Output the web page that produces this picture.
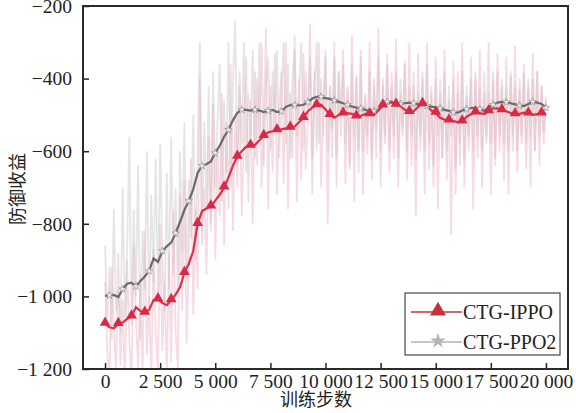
<!DOCTYPE html>
<html>
<head>
<meta charset="utf-8">
<script src="https://cdn.jsdelivr.net/npm/d3@7"></script>
<style>
  body { margin: 0; background: #fff; }
</style>
</head>
<body>
<script>
// Data: smoothed rewards every 200 steps, raw rewards every 100 steps
let steps = d3.range(0, 20001, 200);
let rawSteps = d3.range(0, 20001, 100);

let ippoSmooth = [
  -1075, -1085, -1088, -1076, -1072, -1062, -1055, -1030, -1040, -1045,
  -1037, -1010, -1008, -1018, -1024, -1010, -995, -975, -935, -910,
  -875, -800, -765, -758, -752, -736, -720, -700, -672, -640,
  -615, -600, -588, -585, -583, -570, -558, -548, -545, -542,
  -540, -537, -535, -532, -520, -508, -490, -480, -473, -472,
  -485, -500, -508, -500, -496, -495, -497, -504, -503, -497,
  -498, -500, -488, -474, -468, -464, -472, -476, -486, -492,
  -490, -478, -470, -475, -488, -494, -508, -513, -515, -517,
  -520, -518, -505, -498, -493, -495, -498, -490, -482, -482,
  -487, -490, -495, -498, -497, -494, -496, -500, -498, -496,
  -498,
];

let ppo2Smooth = [
  -999, -997, -996, -1002, -980, -965, -962, -972, -958, -945,
  -930, -895, -905, -875, -862, -852, -826, -795, -762, -737,
  -705, -660, -640, -636, -628, -605, -585, -560, -541, -515,
  -494, -486, -486, -488, -486, -488, -492, -489, -486, -492,
  -490, -478, -473, -473, -474, -472, -465, -455, -450, -450,
  -454, -456, -460, -464, -468, -472, -477, -480, -482, -486,
  -490, -489, -486, -470, -464, -466, -468, -470, -468, -466,
  -468, -471, -473, -475, -477, -479, -482, -486, -489, -493,
  -494, -488, -484, -481, -480, -484, -489, -480, -472, -466,
  -464, -465, -468, -471, -474, -476, -470, -464, -466, -470,
  -480,
];

let ippoRaw = [
  -960, -1150, -1230, -920, -1080, -1210, -880, -1190, -1010, -1250,
  -900, -1120, -1240, -860, -1060, -1200, -940, -1230, -820, -1160,
  -1000, -1240, -870, -1100, -1210, -800, -1150, -960, -1230, -880,
  -1180, -760, -1090, -1200, -720, -1040, -680, -1130, -900, -620,
  -1050, -760, -980, -400, -860, -700, -940, -560, -820, -470,
  -900, -600, -780, -440, -860, -520, -760, -360, -820, -500,
  -700, -420, -780, -560, -340, -740, -460, -800, -380, -640,
  -300, -700, -520, -260, -760, -420, -660, -330, -720, -480,
  -380, -690, -300, -760, -440, -620, -280, -740, -400, -680,
  -330, -650, -520, -250, -720, -380, -600, -300, -700, -460,
  -340, -800, -420, -620, -300, -700, -380, -560, -320, -690,
  -430, -650, -280, -740, -390, -600, -320, -720, -450, -610,
  -300, -680, -400, -620, -260, -700, -420, -580, -330, -660,
  -380, -620, -290, -700, -440, -560, -350, -680, -300, -640,
  -420, -780, -330, -600, -380, -720, -300, -650, -440, -700,
  -340, -760, -400, -620, -320, -680, -460, -830, -350, -720,
  -380, -640, -300, -700, -450, -600, -340, -760, -400, -620,
  -320, -700, -440, -580, -300, -720, -380, -640, -330, -600,
  -420, -680, -340, -720, -390, -600, -310, -660, -430, -580,
  -360, -650, -400, -700, -330, -600, -380, -640, -420, -580,
  -460,
];

let ppo2Raw = [
  -860, -1060, -920, -1120, -760, -1040, -980, -1100, -700, -1060,
  -880, -560, -1080, -760, -1000, -640, -1120, -820, -980, -600,
  -1040, -720, -960, -620, -1000, -580, -900, -1040, -660, -980,
  -560, -940, -700, -1000, -600, -880, -520, -960, -680, -840,
  -500, -900, -600, -300, -820, -520, -760, -420, -800, -380,
  -700, -520, -360, -740, -460, -660, -300, -700, -420, -240,
  -640, -380, -580, -300, -660, -440, -560, -320, -620, -400,
  -560, -300, -640, -420, -340, -600, -380, -540, -320, -620,
  -440, -300, -580, -360, -620, -400, -320, -560, -440, -300,
  -600, -380, -520, -340, -620, -420, -300, -580, -400, -560,
  -320, -600, -420, -540, -340, -620, -380, -500, -360, -580,
  -420, -640, -360, -560, -400, -660, -340, -600, -440, -560,
  -380, -620, -420, -540, -340, -600, -400, -560, -360, -600,
  -420, -560, -380, -620, -400, -540, -360, -600, -420, -560,
  -380, -620, -440, -560, -400, -600, -360, -580, -420, -640,
  -400, -560, -440, -620, -380, -600, -420, -560, -400, -650,
  -440, -580, -380, -620, -420, -560, -400, -600, -380, -560,
  -420, -600, -380, -560, -440, -580, -400, -620, -380, -560,
  -400, -580, -420, -600, -380, -560, -420, -600, -400, -560,
  -380, -580, -420, -560, -400, -600, -380, -560, -420, -550,
  -450,
];

let xTicks = [0, 2500, 5000, 7500, 10000, 12500, 15000, 17500, 20000];
let yTicks = [-1200, -1000, -800, -600, -400, -200];

// Define dimensions
let width = 576;
let height = 413;

let margin = {
  top: 6,
  bottom: 44,
  left: 83,
  right: 8,
};

let svg = d3
  .select("body")
  .append("svg")
  .attr("width", width)
  .attr("height", height);

let xScale = d3
  .scaleLinear()
  .domain([-1000, 21000])
  .range([margin.left, width - margin.right]);

let yScale = d3
  .scaleLinear()
  .domain([-1200, -200])
  .range([height - margin.bottom, margin.top]);

let locale = d3.formatLocale({
  decimal: ".",
  thousands: " ",
  grouping: [3],
  currency: ["", ""],
  minus: "\u2212",
});
let fmt = locale.format(",d");

// Clip the noisy curves to the plot area
svg
  .append("clipPath")
  .attr("id", "plot-clip")
  .append("rect")
  .attr("x", margin.left)
  .attr("y", margin.top)
  .attr("width", width - margin.left - margin.right)
  .attr("height", height - margin.top - margin.bottom);

let plot = svg.append("g").attr("clip-path", "url(#plot-clip)");

let line = (xs, values) =>
  d3
    .line()
    .x((d, i) => xScale(xs[i]))
    .y((d) => yScale(d))(values);

// Raw episode rewards (light background)
plot
  .append("path")
  .attr("d", line(rawSteps, ppo2Raw))
  .attr("fill", "none")
  .attr("stroke", "#cccccc")
  .attr("stroke-opacity", 0.5)
  .attr("stroke-width", 1.8);

plot
  .append("path")
  .attr("d", line(rawSteps, ippoRaw))
  .attr("fill", "none")
  .attr("stroke", "#eeb0bf")
  .attr("stroke-opacity", 0.45)
  .attr("stroke-width", 1.8);

// Smoothed curves
plot
  .append("path")
  .attr("d", line(steps, ppo2Smooth))
  .attr("fill", "none")
  .attr("stroke", "#6a6a6a")
  .attr("stroke-width", 2.2);

plot
  .append("path")
  .attr("d", line(steps, ippoSmooth))
  .attr("fill", "none")
  .attr("stroke", "#dc2f4a")
  .attr("stroke-width", 2.2);

// Markers
let star = d3.symbol().type(d3.symbolStar).size(18);
let tri = d3.symbol().type(d3.symbolTriangle).size(50);

plot
  .selectAll(".star")
  .data(ppo2Smooth.map((v, i) => ({ s: steps[i], v: v })).filter((d, i) => i % 3 === 1))
  .join("path")
  .attr("class", "star")
  .attr("d", star)
  .attr("transform", (d) => `translate(${xScale(d.s)},${yScale(d.v)})`)
  .attr("fill", "#eeeeee")
  .attr("stroke", "#8a8a8a")
  .attr("stroke-width", 0.6);

plot
  .selectAll(".tri")
  .data(ippoSmooth.map((v, i) => ({ s: steps[i], v: v })).filter((d, i) => i % 3 === 0))
  .join("path")
  .attr("class", "tri")
  .attr("d", tri)
  .attr("transform", (d) => `translate(${xScale(d.s)},${yScale(d.v) - 1})`)
  .attr("fill", "#d82a46");

// Axes with inward ticks
let xAxis = svg
  .append("g")
  .attr("transform", `translate(0, ${height - margin.bottom})`)
  .call(
    d3
      .axisBottom(xScale)
      .tickValues(xTicks)
      .tickFormat(fmt)
      .tickSizeInner(-6)
      .tickSizeOuter(0)
      .tickPadding(5),
  );

let yAxis = svg
  .append("g")
  .attr("transform", `translate(${margin.left}, 0)`)
  .call(
    d3
      .axisLeft(yScale)
      .tickValues(yTicks)
      .tickFormat(fmt)
      .tickSizeInner(-6)
      .tickSizeOuter(0)
      .tickPadding(11),
  );

[xAxis, yAxis].forEach((ax) => {
  ax.select(".domain").remove();
  ax.selectAll("line").attr("stroke", "#222").attr("stroke-width", 1.5);
  ax.selectAll("text")
    .attr("fill", "#222")
    .style("font-family", "'Liberation Serif', 'Times New Roman', serif")
    .style("font-size", "19.5px");
});

// Frame
svg
  .append("rect")
  .attr("x", margin.left)
  .attr("y", margin.top)
  .attr("width", width - margin.left - margin.right)
  .attr("height", height - margin.top - margin.bottom)
  .attr("fill", "none")
  .attr("stroke", "#2a2a2a")
  .attr("stroke-width", 2);

// Axis labels
svg
  .append("text")
  .attr("x", 316)
  .attr("y", 406)
  .text("训练步数")
  .style("text-anchor", "middle")
  .style("font-family", "'Noto Sans CJK SC', sans-serif")
  .style("font-size", "18px")
  .attr("fill", "#222");

svg
  .append("text")
  .attr("transform", "translate(24, 189) rotate(-90)")
  .text("防御收益")
  .style("text-anchor", "middle")
  .style("font-family", "'Noto Sans CJK SC', sans-serif")
  .style("font-size", "18px")
  .attr("fill", "#222");

// Legend
let legend = svg.append("g");

legend
  .append("rect")
  .attr("x", 405)
  .attr("y", 293)
  .attr("width", 155)
  .attr("height", 62)
  .attr("fill", "#fff")
  .attr("stroke", "#222")
  .attr("stroke-width", 1);

let legendItems = [
  { name: "CTG-IPPO", color: "#c8323e", mark: d3.symbolTriangle, size: 110, y: 312 },
  { name: "CTG-PPO2", color: "#b4b4b4", mark: d3.symbolStar, size: 75, y: 342 },
];

legendItems.forEach((d) => {
  legend
    .append("line")
    .attr("x1", 411)
    .attr("x2", 462)
    .attr("y1", d.y)
    .attr("y2", d.y)
    .attr("stroke", d.color)
    .attr("stroke-width", 1.5);
  legend
    .append("path")
    .attr("d", d3.symbol().type(d.mark).size(d.size))
    .attr("transform", `translate(438, ${d.y - 1})`)
    .attr("fill", d.color);
  legend
    .append("text")
    .attr("x", 463)
    .attr("y", d.y + 6.5)
    .text(d.name)
    .style("font-family", "'Liberation Serif', 'Times New Roman', serif")
    .style("font-size", "20px")
    .attr("fill", "#222");
});
</script>
</body>
</html>
